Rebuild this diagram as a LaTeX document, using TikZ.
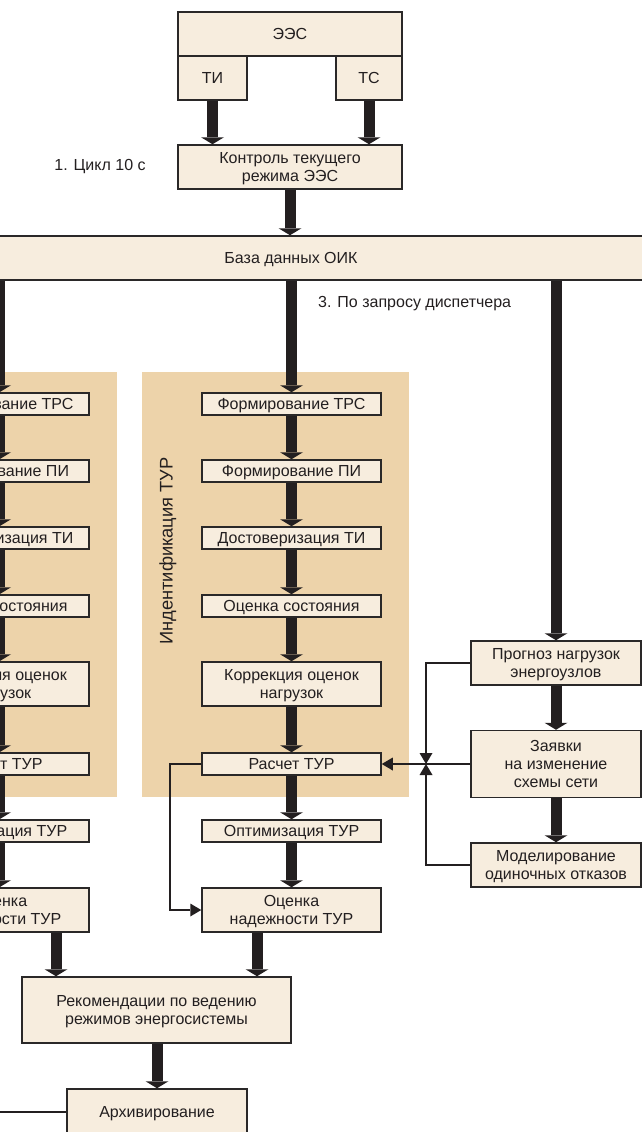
\documentclass[tikz,border=0pt]{standalone}
\usepackage{fontspec}
\setmainfont{Liberation Sans}
\usetikzlibrary{arrows.meta}
\definecolor{boxfill}{HTML}{F7EDDE}
\definecolor{panelfill}{HTML}{EDD3AA}
\definecolor{ink}{HTML}{231F20}
\definecolor{edge}{HTML}{2A2828}
\begin{document}
\begin{tikzpicture}[x=1pt,y=-1pt,
  box/.style={draw=edge, line width=1.5pt, fill=boxfill, inner sep=0pt, align=center,
    font=\fontsize{16}{18}\selectfont, text=ink, text depth=0pt},
  flow/.style={draw=ink, line width=11pt, -{Triangle[width=23pt,length=7pt,line width=0pt]}},
  link/.style={draw=ink, line width=1.8pt},
  tip/.style={-{Triangle[width=13pt,length=11pt,line width=0pt]}},
  lbl/.style={font=\fontsize{16}{18}\selectfont, text=ink, inner sep=0pt}]
\useasboundingbox (0,0) rectangle (642,1132);
\clip (0,0) rectangle (642,1132);

% panels
\fill[panelfill] (-150,372) rectangle (117,797);
\fill[panelfill] (142,372) rectangle (409,797);

% top
\node[box, minimum width=224pt, minimum height=44pt] (ees) at (290,34) {ЭЭС};
\node[box, minimum width=69pt, minimum height=44pt] (ti) at (212.5,78) {ТИ};
\node[box, minimum width=66pt, minimum height=44pt] (ts) at (369,78) {ТС};
\node[box, minimum width=224pt, minimum height=44pt] (ctrl) at (290,167) {Контроль текущего\\режима ЭЭС};
\node[lbl] (cyc) at (100,167) {1. Цикл 10 с};
\node[box, minimum width=800pt, minimum height=44pt] (db) at (291,258) {База данных ОИК};
\node[lbl, anchor=west] (req) at (318,304) {3. По запросу диспетчера};

\draw[flow] (ti.south) -- (ti.south |- ctrl.north);
\draw[flow] (ts.south) -- (ts.south |- ctrl.north);
\draw[flow] (ctrl.south) -- (ctrl.south |- db.north);

% middle column
\node[lbl, rotate=90, font=\fontsize{18.3}{20}\selectfont] (ident) at (168,551) {Индентификация ТУР};
\node[box, minimum width=179pt, minimum height=22pt] (m1) at (291.5,404) {Формирование ТРС};
\node[box, minimum width=179pt, minimum height=22pt] (m2) at (291.5,471) {Формирование ПИ};
\node[box, minimum width=179pt, minimum height=22pt] (m3) at (291.5,538) {Достоверизация ТИ};
\node[box, minimum width=179pt, minimum height=22pt] (m4) at (291.5,606) {Оценка состояния};
\node[box, minimum width=179pt, minimum height=44pt] (m5) at (291.5,684) {Коррекция оценок\\нагрузок};
\node[box, minimum width=179pt, minimum height=22pt] (m6) at (291.5,764) {Расчет ТУР};
\node[box, minimum width=179pt, minimum height=22pt] (m7) at (291.5,831) {Оптимизация ТУР};
\node[box, minimum width=179pt, minimum height=44pt] (m8) at (291.5,910) {Оценка\\надежности ТУР};

% left column (partly outside)
\node[box, minimum width=179pt, minimum height=22pt] (l1) at (-0.5,404) {Формирование ТРС};
\node[box, minimum width=179pt, minimum height=22pt] (l2) at (-0.5,471) {Формирование ПИ};
\node[box, minimum width=179pt, minimum height=22pt] (l3) at (-0.5,538) {Достоверизация ТИ};
\node[box, minimum width=179pt, minimum height=22pt] (l4) at (-0.5,606) {Оценка состояния};
\node[box, minimum width=179pt, minimum height=44pt] (l5) at (-0.5,684) {Коррекция оценок\\нагрузок};
\node[box, minimum width=179pt, minimum height=22pt] (l6) at (-0.5,764) {Расчет ТУР};
\node[box, minimum width=179pt, minimum height=22pt] (l7) at (-0.5,831) {Оптимизация ТУР};
\node[box, minimum width=179pt, minimum height=44pt] (l8) at (-0.5,910) {Оценка\\надежности ТУР};

\draw[flow] (m1.north |- db.south) -- (m1.north);
\draw[flow] (l1.north |- db.south) -- (l1.north);
\foreach \a/\b in {1/2,2/3,3/4,4/5,5/6,6/7,7/8}{
  \draw[flow] (m\a.south) -- (m\b.north);
  \draw[flow] (l\a.south) -- (l\b.north);
}

% right column
\node[box, minimum width=170pt, minimum height=44pt] (r1) at (556,663) {Прогноз нагрузок\\энергоузлов};
\node[box, minimum width=170pt, minimum height=67pt] (r2) at (556,764) {Заявки\\на изменение\\схемы сети};
\node[box, minimum width=170pt, minimum height=44pt] (r3) at (556,865) {Моделирование\\одиночных отказов};
\draw[flow] (r1.north |- db.south) -- (r1.north);
\draw[flow] (r1.south) -- (r2.north);
\draw[flow] (r2.south) -- (r3.north);

\coordinate (jn) at (426,764);
\draw[link, tip] (r1.west) -| (jn);
\draw[link, tip] (r3.west) -| (jn);
\draw[link, tip] (r2.west) -- (m6.east);

\coordinate (bend) at (170,764);
\draw[link, tip] (m6.west) -- (bend) |- (m8.west);

% bottom
\node[box, minimum width=269pt, minimum height=66pt] (rec) at (156.5,1010) {Рекомендации по ведению\\режимов энергосистемы};
\node[box, minimum width=180pt, minimum height=46pt] (arch) at (157,1112) {Архивирование};
\coordinate (xa) at (56,0);
\coordinate (xb) at (257,0);
\draw[flow] (l8.south -| xa) -- (rec.north -| xa);
\draw[flow] (m8.south -| xb) -- (rec.north -| xb);
\draw[flow] (rec.south -| arch.north) -- (arch.north);
\coordinate (archin) at (-10,1112);
\draw[link] (archin) -- (arch.west);
\end{tikzpicture}
\end{document}
